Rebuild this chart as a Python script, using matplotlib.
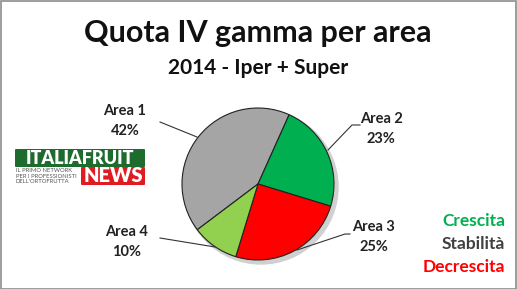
import matplotlib
matplotlib.use('Agg')
import matplotlib.pyplot as plt
from matplotlib.patches import Circle, Rectangle, FancyBboxPatch

# dati del grafico
areas = ['Area 1', 'Area 2', 'Area 3', 'Area 4']
quote = [42, 23, 25, 10]
colori = ['#A5A5A5', '#00B050', '#FF0000', '#92D050']
legenda = ['Crescita', 'Stabilità', 'Decrescita']
colori_legenda = ['#00B050', '#404040', '#FF0000']

W, H = 517, 289
plt.rcParams['font.family'] = ['Lato', 'DejaVu Sans']

fig = plt.figure(figsize=(W / 100, H / 100), dpi=100)
ax = fig.add_axes([0, 0, 1, 1])

def py(y):
    # coordinate in pixel dall'alto
    return H - y

# bordo
ax.add_patch(Rectangle((0.5, 0.5), W - 1.5, H - 1.5, fill=False, ec='#8c8c8c', lw=1.2))

# titoli
ax.text(258, py(33), 'Quota IV gamma per area', ha='center', va='center',
        fontsize=22, fontweight='bold', color='#111111')
ax.text(258, py(68), '2014 - Iper + Super', ha='center', va='center',
        fontsize=15, fontweight='bold', color='#111111')

# torta
cx, cy, r = 258, py(184), 76
ax.add_patch(Circle((cx + 3, cy - 3), r + 1, color='#d0d0d0', zorder=1))
ax.pie(quote, colors=colori, startangle=90 - 233, counterclock=False,
       center=(cx, cy), radius=r, frame=True,
       wedgeprops=dict(edgecolor='#222222', linewidth=0.8, zorder=2))
ax.set_xlim(0, W)
ax.set_ylim(0, H)
ax.set_aspect('equal')
ax.axis('off')

# etichette con linee guida
etichette = [
    (125, 121, [(160, 122), (197, 137)]),
    (381, 129, [(360, 125), (352, 125), (328, 150)]),
    (374, 237, [(350, 234), (345, 234), (297, 250)]),
    (127, 242, [(160, 238), (215, 247)]),
]
for (tx, ty, linea), nome, q in zip(etichette, areas, quote):
    ax.text(tx, py(ty), f'{nome}\n{q}%', ha='center', va='center',
            fontsize=10.5, fontweight='bold', color='#222222', linespacing=1.55)
    xs = [p[0] for p in linea]
    ys = [py(p[1]) for p in linea]
    ax.plot(xs, ys, color='#333333', lw=0.8)

# logo
ax.add_patch(FancyBboxPatch((16, py(166)), 128, 16, boxstyle='round,pad=1',
                            fc='#1e6b2e', ec='none'))
ax.text(80, py(158), 'ITALIAFRUIT', ha='center', va='center', fontsize=13,
        fontweight='heavy', color='white')
ax.add_patch(FancyBboxPatch((82, py(184)), 62, 16, boxstyle='round,pad=1',
                            fc='#e01b22', ec='none'))
ax.text(113, py(176), 'NEWS', ha='center', va='center', fontsize=14.5,
        fontweight='heavy', color='white')
for i, riga in enumerate(['IL PRIMO NETWORK', 'PER I PROFESSIONISTI', "DELL'ORTOFRUTTA"]):
    ax.text(16, py(170.5 + i * 5.5), riga, ha='left', va='center', fontsize=4.2,
            color='#555555')

# legenda testuale
for i, (t, c) in enumerate(zip(legenda, colori_legenda)):
    ax.text(505, py(221 + i * 23), t, ha='right', va='center', fontsize=12.5,
            fontweight='bold', color=c)

fig.savefig('out.png', dpi=100)
